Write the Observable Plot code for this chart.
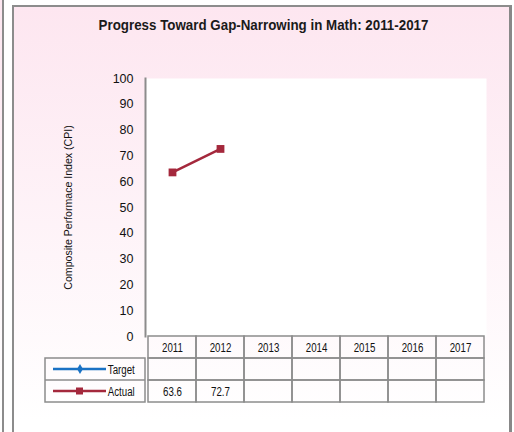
<!DOCTYPE html>
<html><head><meta charset="utf-8">
<script src="https://cdn.jsdelivr.net/npm/d3@7"></script>
<script src="https://cdn.jsdelivr.net/npm/@observablehq/plot@0.6"></script>
<style>
body{margin:0;width:514px;height:432px;overflow:hidden;background:#fff;font-family:"Liberation Sans",Arial,sans-serif}
#wrap{position:relative;width:514px;height:432px;overflow:hidden}
#leftpanel{position:absolute;left:-10px;top:-4px;width:12px;height:450px;border-right:2px solid #8c8c8c;background:linear-gradient(#fde6f0,#fff 90%)}
#frame{position:absolute;left:12px;top:5px;width:495px;height:450px;border:2px solid #8c8c8c;border-right:3px solid #888;background:linear-gradient(#fde6f0,#fff 92%)}
#title{position:absolute;left:16px;top:16px;width:495px;text-align:center;font:bold 15px "Liberation Sans",Arial,sans-serif;color:#1a1a1a;transform:scaleX(0.89);white-space:nowrap}
#chart,#table{position:absolute;left:0}
#chart{top:0}
#table{top:336px}
svg{background:transparent!important;overflow:visible}
</style></head>
<body><div id="wrap"><div id="leftpanel"></div><div id="frame"></div>
<div id="title">Progress Toward Gap-Narrowing in Math: 2011-2017</div>
<div id="chart"></div><div id="table"></div></div>
<script>
const years = ["2011","2012","2013","2014","2015","2016","2017"];
const target = [null,null,null,null,null,null,null];
const actual = [63.6,72.7,null,null,null,null,null];
const yTicks = [0,10,20,30,40,50,60,70,80,90,100];
const seriesNames = ["Target","Actual"];
const seriesColors = ["#1a72c4","#a4283c"];
const yLabel = "Composite Performace Index (CPI)";

const actualData = years.map((y,i)=>({year:y,value:actual[i]})).filter(d=>d.value!=null);
const targetData = years.map((y,i)=>({year:y,value:target[i]})).filter(d=>d.value!=null);

const xScale = {type:"band", domain:years, padding:0, axis:null};
const fontFam = "'Liberation Sans',Arial,sans-serif";

// squeeze text horizontally (emulates a narrow typeface)
function squeeze(sel, s) {
  sel.each(function(){
    const b = this.getBBox();
    const cx = b.x + b.width/2;
    const t = this.getAttribute("transform") || "";
    this.setAttribute("transform", `${t} translate(${cx},0) scale(${s},1) translate(${-cx},0)`);
  });
}

const chart = Plot.plot({
  width:514, height:432,
  marginLeft:145, marginRight:28, marginTop:78, marginBottom:96,
  style:{background:"transparent", fontFamily:fontFam, fontSize:"12px", color:"#111"},
  x:xScale,
  y:{domain:[0,100], ticks:yTicks},
  marks:[
    Plot.frame({fill:"white", stroke:"none"}),
    Plot.frame({anchor:"left", stroke:"#8c8c8c", strokeWidth:2}),
    Plot.axisY({ticks:yTicks, tickSize:0, tickPadding:12, fontSize:12.5, label:null}),
    Plot.text([yLabel], {frameAnchor:"left", textAnchor:"middle", rotate:-90, dx:-77, fontSize:11.5, fill:"#111"}),
    Plot.line(targetData, {x:"year", y:"value", stroke:seriesColors[0], strokeWidth:2.5}),
    Plot.dot(targetData, {x:"year", y:"value", symbol:"diamond", r:4, fill:seriesColors[0]}),
    Plot.line(actualData, {x:"year", y:"value", stroke:seriesColors[1], strokeWidth:2.5}),
    Plot.dot(actualData, {x:"year", y:"value", symbol:"square", r:4.4, fill:seriesColors[1]})
  ]
});
document.getElementById("chart").append(chart);
d3.select(chart).selectAll("text").attr("font-size", null);
d3.select(chart).selectAll("g").filter(function(){ return this.getAttribute("aria-label")==="y-axis tick label"; }).attr("font-size", 12.5);
squeeze(d3.select(chart).selectAll("g[aria-label='text'] text"), 0.92);

const rows = ["Year", ...seriesNames];
const cells = [];
for (const r of rows) for (const y of years) cells.push({row:r, year:y});
const valueCells = [];
years.forEach((y,i)=>{
  if (target[i]!=null) valueCells.push({row:"Target", year:y, text:target[i].toFixed(1)});
  if (actual[i]!=null) valueCells.push({row:"Actual", year:y, text:actual[i].toFixed(1)});
});
const table = Plot.plot({
  width:514, height:68,
  marginLeft:145, marginRight:28, marginTop:0, marginBottom:2,
  style:{background:"transparent", fontFamily:fontFam, fontSize:"13.5px", color:"#111"},
  x:xScale,
  y:{type:"band", domain:rows, padding:0, axis:null},
  marks:[
    Plot.cell(cells, {x:"year", y:"row", fill:"none", stroke:"#8c8c8c", strokeWidth:1.5}),
    Plot.text(years, {x:d=>d, y:()=>"Year", text:d=>d}),
    Plot.text(valueCells, {x:"year", y:"row", text:"text"})
  ]
});
document.getElementById("table").append(table);
d3.select(table).selectAll("text").attr("font-size", null);

// legend column, aligned with the table's row scale
const ys = table.scale("y");
const bw = ys.bandwidth;
const g = d3.select(table).append("g");
const top0 = ys.apply("Target");
const bot = ys.apply("Actual") + bw;
g.append("rect").attr("x",45).attr("y",top0).attr("width",100).attr("height",bot-top0)
  .attr("fill","none").attr("stroke","#8c8c8c").attr("stroke-width",1.5);
g.append("line").attr("x1",45).attr("x2",145).attr("y1",ys.apply("Actual")).attr("y2",ys.apply("Actual"))
  .attr("stroke","#8c8c8c").attr("stroke-width",1.5);
seriesNames.forEach((name,i)=>{
  const cy = ys.apply(name) + bw/2;
  g.append("line").attr("x1",53).attr("x2",106).attr("y1",cy).attr("y2",cy)
    .attr("stroke",seriesColors[i]).attr("stroke-width",2.5);
  if (i===0) {
    g.append("path").attr("d",d3.symbol(d3.symbolDiamond, 30)()).attr("transform",`translate(80,${cy})`).attr("fill",seriesColors[i]);
  } else {
    g.append("rect").attr("x",76).attr("y",cy-3.5).attr("width",7).attr("height",7).attr("fill",seriesColors[i]);
  }
  g.append("text").attr("x",140).attr("y",cy).attr("dy","0.35em")
    .attr("text-anchor","end").attr("font-family",fontFam).attr("fill","#111").text(name);
});
squeeze(d3.select(table).selectAll("text"), 0.72);
</script>
</body></html>
